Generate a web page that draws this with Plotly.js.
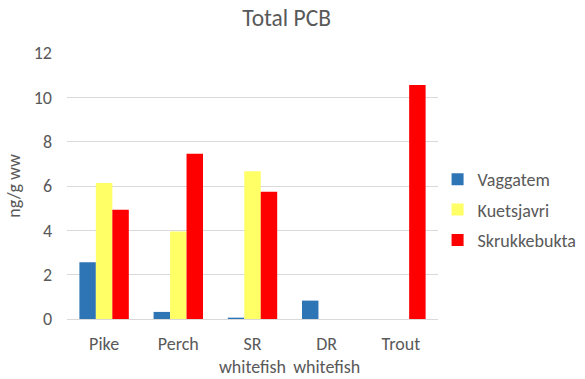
<!DOCTYPE html>
<html>
<head>
<meta charset="utf-8">
<script src="https://cdn.plot.ly/plotly-3.0.1.min.js"></script>
<style>html,body{margin:0;padding:0;background:#fff;}#chart{width:585px;height:379px;}</style>
</head>
<body>
<div id="chart"></div>
<script>
var categories = ["Pike", "Perch", "SR<br>whitefish", "DR<br>whitefish", "Trout"];
var vaggatem = [2.56, 0.32, 0.06, 0.83, null];
var kuetsjavri = [6.14, 3.95, 6.66, null, null];
var skrukkebukta = [4.93, 7.46, 5.74, null, 10.56];
var seriesNames = ["Vaggatem", "Kuetsjavri", "Skrukkebukta"];
var seriesColors = ["#2E75B6", "#FFFF66", "#FF0000"];
var yTicks = [0, 2, 4, 6, 8, 10, 12];

var allValues = [vaggatem, kuetsjavri, skrukkebukta];
var data = allValues.map(function (vals, i) {
  return {
    type: "bar",
    name: seriesNames[i],
    x: categories,
    y: vals,
    legendgroup: "g" + i,
    marker: { color: seriesColors[i], line: { width: 0 } },
    hoverinfo: "x+y+name"
  };
});

var font = "Calibri, Carlito, Lato, sans-serif";
var layout = {
  width: 585,
  height: 379,
  paper_bgcolor: "#ffffff",
  plot_bgcolor: "#ffffff",
  margin: { l: 67, r: 147, t: 53, b: 60, autoexpand: false },
  barmode: "group",
  bargap: 0.334,
  bargroupgap: 0,
  title: {
    text: "Total PCB",
    font: { family: font, size: 23.5, color: "#595959" },
    x: 0.49, xanchor: "center", xref: "container",
    y: 0.952, yanchor: "middle"
  },
  xaxis: {
    type: "category",
    tickfont: { family: font, size: 18, color: "#595959" },
    tickangle: 0,
    automargin: false,
    showgrid: false,
    showline: true,
    linecolor: "#D9D9D9",
    linewidth: 1,
    ticks: "",
    ticklabelstandoff: 8,
    zeroline: false
  },
  yaxis: {
    range: [0, 12],
    tickvals: yTicks,
    ticktext: yTicks.map(String),
    tickfont: { family: font, size: 18, color: "#595959" },
    automargin: false,
    showgrid: true,
    gridcolor: "#D9D9D9",
    gridwidth: 1,
    zeroline: false,
    showline: false,
    ticks: "",
    ticklen: 0,
    ticklabelstandoff: 14,
    title: {
      text: "ng/g ww",
      font: { family: font, size: 18, color: "#595959" },
      standoff: 8
    }
  },
  showlegend: true,
  legend: {
    xref: "container", yref: "container",
    x: 0.748, xanchor: "left",
    y: 0.446, yanchor: "middle",
    font: { family: font, size: 18, color: "#595959" },
    traceorder: "grouped",
    tracegroupgap: 4,
    itemwidth: 30
  }
};

Plotly.newPlot("chart", data, layout, { staticPlot: true, displayModeBar: false });
</script>
</body>
</html>
